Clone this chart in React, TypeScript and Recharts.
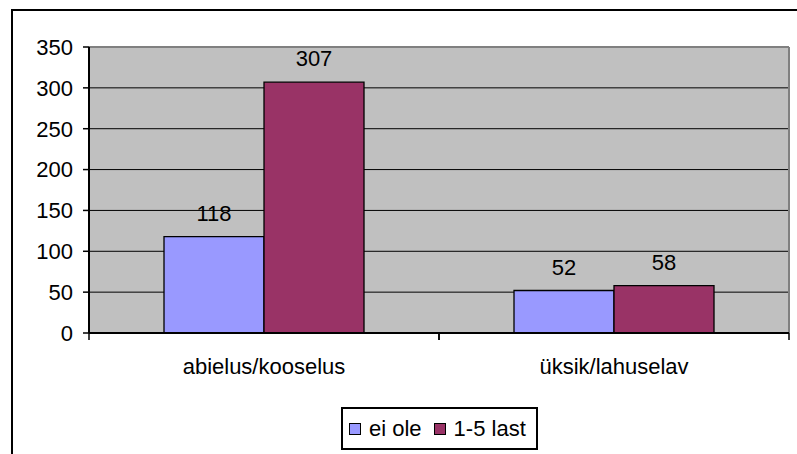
import React from 'react';
import { BarChart, Bar, XAxis, YAxis, CartesianGrid, Legend, LabelList } from 'recharts';

const categories = ['abielus/kooselus', 'üksik/lahuselav'];
const eiOle = [118, 52];
const last15 = [307, 58];
const yTicks = [0, 50, 100, 150, 200, 250, 300, 350];
const seriesNames = ['ei ole', '1-5 last'];

const COLORS = ['#9999FF', '#993366'];
const FONT = '"Liberation Sans", Arial, Helvetica, sans-serif';
const FS = 22;

const data = categories.map((c, i) => ({ name: c, a: eiOle[i], b: last15[i] }));

const XTick = (props: any) => {
  const { x, y, payload, width } = props;
  const half = width / categories.length / 2;
  return (
    <g>
      <line x1={x - half} x2={x - half} y1={y} y2={y + 7} stroke="#000" strokeWidth={1.5} />
      <line x1={x + half} x2={x + half} y1={y} y2={y + 7} stroke="#000" strokeWidth={1.5} />
      <text x={x} y={y + 41} textAnchor="middle" fill="#000" fontSize={FS} fontFamily={FONT}>
        {payload.value}
      </text>
    </g>
  );
};

const LegendBox = () => (
  <div
    style={{
      boxSizing: 'border-box',
      width: 197,
      height: 43,
      border: '2px solid #000',
      background: '#fff',
      display: 'flex',
      alignItems: 'center',
      paddingLeft: 6,
      fontFamily: FONT,
      fontSize: FS,
      color: '#000',
      whiteSpace: 'nowrap',
    }}
  >
    {seriesNames.map((n, i) => (
      <span key={n} style={{ display: 'flex', alignItems: 'center', marginRight: i === 0 ? 12 : 0 }}>
        <span
          style={{
            display: 'inline-block',
            boxSizing: 'border-box',
            width: 12,
            height: 12,
            background: COLORS[i],
            border: '1.5px solid #000',
            marginRight: 8,
          }}
        />
        <span>{n}</span>
      </span>
    ))}
  </div>
);

export default function App() {
  return (
    <div style={{ position: 'absolute', left: 0, top: 0, width: 797, height: 454, overflow: 'hidden', background: '#fff' }}>
      <div
        style={{
          position: 'absolute',
          left: 11,
          top: 9,
          width: 820,
          height: 480,
          border: '2px solid #000',
          boxSizing: 'border-box',
        }}
      />
      <BarChart
        width={797}
        height={454}
        data={data}
        margin={{ top: 47, right: 8, bottom: 0, left: 0 }}
        barCategoryGap="21.43%"
        barGap={0}
        style={{ fontFamily: FONT }}
      >
        <CartesianGrid fill="#C0C0C0" stroke="#000" strokeWidth={1} vertical={false} fillOpacity={1} />
        <CartesianGrid
          fill="none"
          stroke="#808080"
          strokeWidth={2}
          horizontalCoordinatesGenerator={(p: any) => [p.offset.top]}
          verticalCoordinatesGenerator={(p: any) => [p.offset.left + p.offset.width]}
        />
        <XAxis
          dataKey="name"
          height={78}
          axisLine={{ stroke: '#000', strokeWidth: 2 }}
          tickLine={false}
          tickSize={0}
          tickMargin={0}
          tick={<XTick />}
          interval={0}
        />
        <YAxis
          width={89}
          domain={[0, 350]}
          ticks={yTicks}
          interval={0}
          axisLine={{ stroke: '#000', strokeWidth: 2 }}
          tickLine={{ stroke: '#000', strokeWidth: 1.5 }}
          tickSize={6}
          tickMargin={10}
          tick={{ fill: '#000', fontSize: FS, fontFamily: FONT }}
        />
        <Legend
          verticalAlign="bottom"
          content={<LegendBox />}
          wrapperStyle={{ position: 'absolute', left: 341, top: 407, width: 197, height: 43, bottom: 'auto' }}
        />
        <Bar dataKey="a" name={seriesNames[0]} fill={COLORS[0]} stroke="#000" strokeWidth={1.3} isAnimationActive={false}>
          <LabelList dataKey="a" position="top" offset={16} fill="#000" fontSize={FS} fontFamily={FONT} />
        </Bar>
        <Bar dataKey="b" name={seriesNames[1]} fill={COLORS[1]} stroke="#000" strokeWidth={1.3} isAnimationActive={false}>
          <LabelList dataKey="b" position="top" offset={16} fill="#000" fontSize={FS} fontFamily={FONT} />
        </Bar>
      </BarChart>
    </div>
  );
}
